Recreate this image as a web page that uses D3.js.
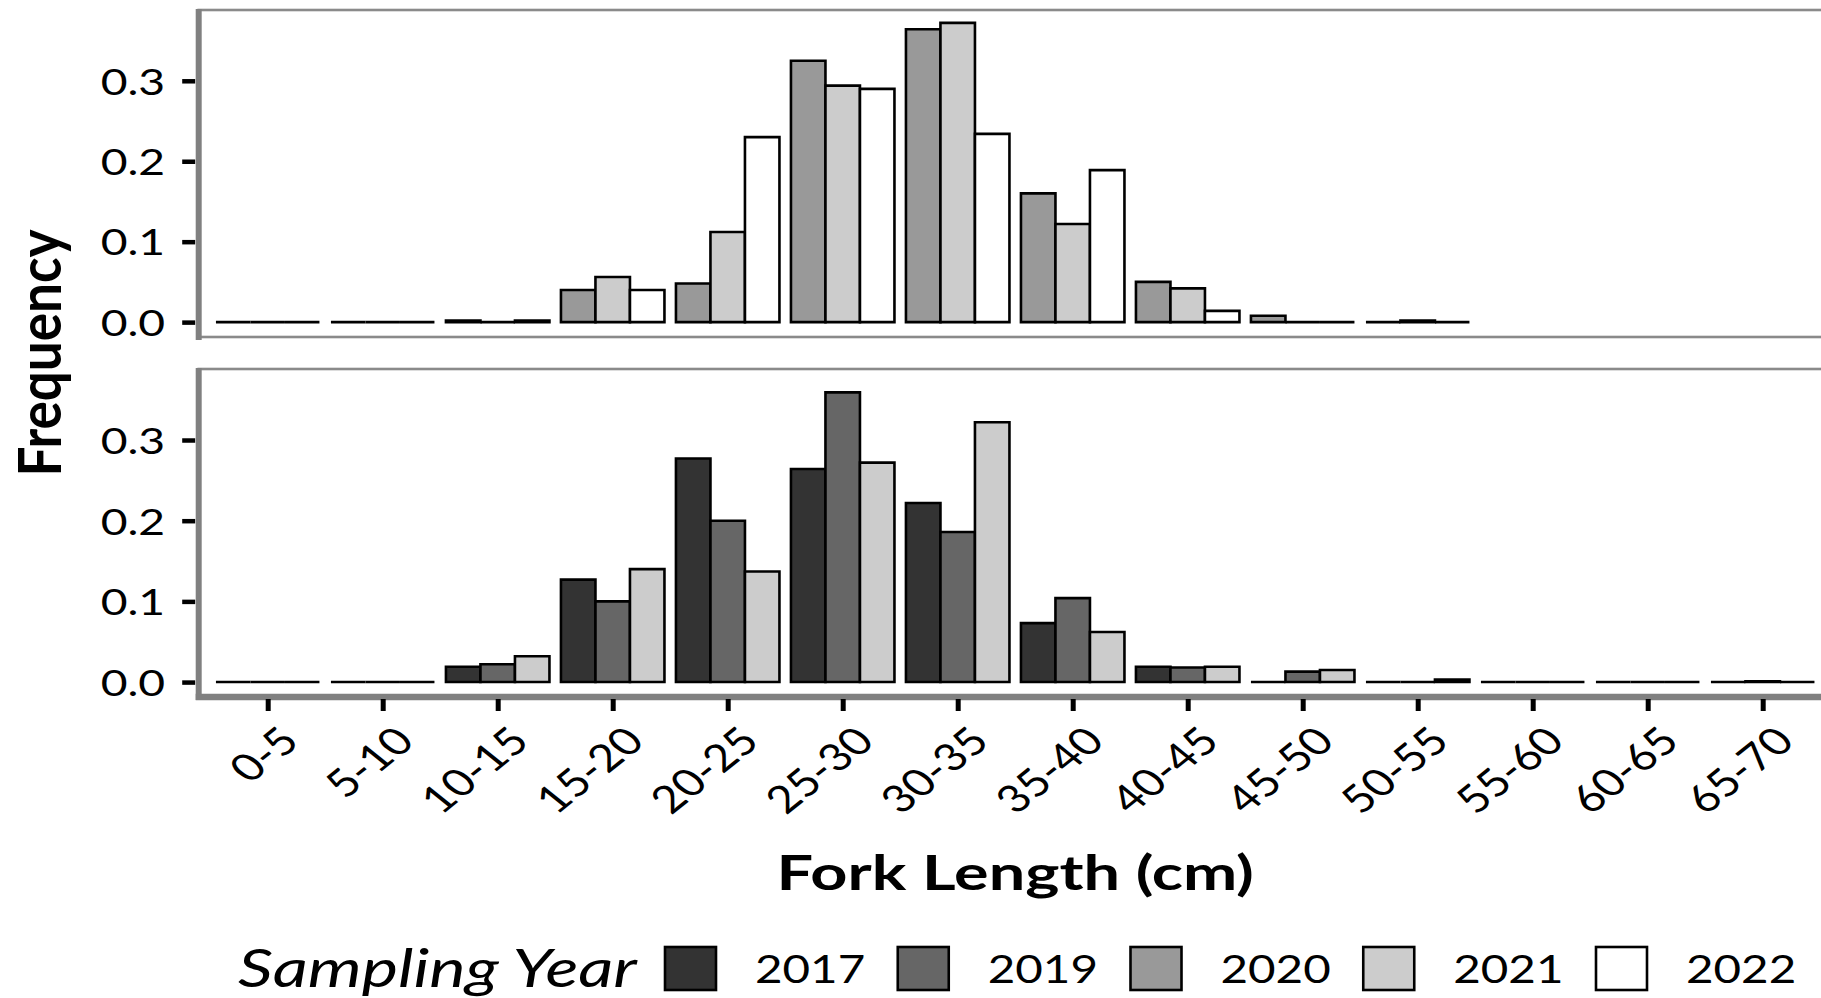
<!DOCTYPE html>
<html>
<head>
<meta charset="utf-8">
<script src="https://cdn.jsdelivr.net/npm/d3@7"></script>
<style>
  body { margin: 0; background: #fff; }
  svg text { font-family: Lato, "Open Sans", sans-serif; fill: #000; }
</style>
</head>
<body>
<div id="chart"></div>
<script>
// length classes on the x axis
const lengthBins = ["0-5", "5-10", "10-15", "15-20", "20-25", "25-30", "30-35",
  "35-40", "40-45", "45-50", "50-55", "55-60", "60-65", "65-70"];

const years = ["2017", "2019", "2020", "2021", "2022"];
const yearFills = ["#333333", "#666666", "#999999", "#cccccc", "#ffffff"];

// top panel (null = no data for that class)
const topYears = ["2020", "2021", "2022"];
const top2020 = [0, 0, 0.002, 0.040, 0.048, 0.325, 0.364, 0.160, 0.050, 0.008, 0, null, null, null];
const top2021 = [0, 0, 0, 0.056, 0.112, 0.294, 0.372, 0.122, 0.042, 0, 0.002, null, null, null];
const top2022 = [0, 0, 0.002, 0.040, 0.230, 0.290, 0.234, 0.189, 0.014, 0, 0, null, null, null];

// bottom panel
const bottomYears = ["2017", "2019", "2021"];
const bottom2017 = [0, 0, 0.019, 0.127, 0.277, 0.264, 0.222, 0.073, 0.019, 0, 0, 0, 0, 0];
const bottom2019 = [0, 0, 0.022, 0.100, 0.200, 0.359, 0.186, 0.104, 0.018, 0.013, 0, 0, 0, 0.001];
const bottom2021 = [0, 0, 0.032, 0.140, 0.137, 0.272, 0.322, 0.062, 0.019, 0.015, 0.003, 0, 0, 0];

const yTicks = [0, 0.1, 0.2, 0.3];

function drawChart() {
  const width = 1821;
  const height = 998;
  const SX = 1.25; // text in the reference is stretched sideways
  const plotLeft = 198.7;
  const plotRight = 1831.7; // runs past the right edge, as in the picture
  const gray = "#8a8a8a";

  const svg = d3.select("#chart").append("svg")
    .attr("width", width)
    .attr("height", height);

  const x = d3.scalePoint()
    .domain(lengthBins)
    .range([plotLeft, plotRight])
    .padding(0.6);
  const step = x.step();

  // three dodged bars filling 90% of a class
  const dodge = d3.scaleBand()
    .domain([0, 1, 2])
    .range([-0.45 * step, 0.45 * step]);

  const fill = d3.scaleOrdinal().domain(years).range(yearFills);

  const panels = [
    { years: topYears, series: [top2020, top2021, top2022], y0: 10, y1: 337 },
    { years: bottomYears, series: [bottom2017, bottom2019, bottom2021], y0: 369, y1: 697 }
  ];

  panels.forEach((p, i) => {
    const y = d3.scaleLinear()
      .domain([-0.0185, 0.388])
      .range([p.y1, p.y0]);

    const g = svg.append("g");

    // panel border
    g.append("rect")
      .attr("x", plotLeft)
      .attr("y", p.y0)
      .attr("width", plotRight - plotLeft)
      .attr("height", p.y1 - p.y0)
      .attr("fill", "none")
      .attr("stroke", gray)
      .attr("stroke-width", 2.6);

    const rows = [];
    p.series.forEach((vals, k) => {
      vals.forEach((v, j) => {
        if (v != null) rows.push({ bin: lengthBins[j], year: p.years[k], k: k, v: v });
      });
    });

    // bars as paths so that zero values still show as a line
    g.selectAll(".bar")
      .data(rows)
      .join("path")
      .attr("class", "bar")
      .attr("d", d => {
        const x0 = x(d.bin) + dodge(d.k);
        const x1 = x0 + dodge.bandwidth();
        return `M${x0},${y(0)}V${y(d.v)}H${x1}V${y(0)}Z`;
      })
      .attr("fill", d => fill(d.year))
      .attr("stroke", "#000")
      .attr("stroke-width", 2.6);

    // Y axis
    const yAxis = g.append("g")
      .attr("transform", `translate(${plotLeft - 3.5},0)`)
      .call(d3.axisLeft(y).tickValues(yTicks).tickFormat(d3.format(".1f")).tickSize(13).tickSizeOuter(0));
    yAxis.select(".domain").remove();
    yAxis.selectAll(".tick line").attr("stroke", "#000").attr("stroke-width", 4.5);
    yAxis.selectAll(".tick text")
      .attr("x", null)
      .attr("dy", "0.36em")
      .attr("transform", `translate(-30,0) scale(${SX},1)`)
      .style("font-size", "37px")
      .style("text-anchor", "end");

    // left axis line
    g.append("line")
      .attr("x1", plotLeft).attr("x2", plotLeft)
      .attr("y1", p.y0 - 1).attr("y2", p.y1 + 3)
      .attr("stroke", "#808080")
      .attr("stroke-width", 6);

    // X axis only under the bottom panel
    if (i === panels.length - 1) {
      g.append("line")
        .attr("x1", plotLeft - 3).attr("x2", plotRight)
        .attr("y1", p.y1).attr("y2", p.y1)
        .attr("stroke", "#808080")
        .attr("stroke-width", 6.5);

      const xAxis = g.append("g")
        .attr("transform", `translate(0,${p.y1 + 2})`)
        .call(d3.axisBottom(x).tickSize(12).tickSizeOuter(0));
      xAxis.select(".domain").remove();
      xAxis.selectAll(".tick line").attr("stroke", "#000").attr("stroke-width", 5);
      xAxis.selectAll(".tick text")
        .attr("y", null)
        .attr("dy", "0.72em")
        .attr("transform", `translate(9,25) scale(${SX},1) rotate(-45)`)
        .style("font-size", "38px")
        .style("text-anchor", "end");
    }
  });

  // Y label
  svg.append("text")
    .attr("transform", `translate(61,353) scale(1.13,1) rotate(-90)`)
    .style("text-anchor", "middle")
    .style("font-size", "53px")
    .style("font-weight", "700")
    .text("Frequency");

  // X label
  svg.append("text")
    .attr("transform", `translate(${(plotLeft + plotRight) / 2},890) scale(1.35,1)`)
    .style("text-anchor", "middle")
    .style("font-size", "48px")
    .style("font-weight", "700")
    .text("Fork Length (cm)");

  // Legend
  svg.append("text")
    .attr("transform", `translate(238,987) scale(1.32,1)`)
    .style("font-size", "52px")
    .style("font-style", "italic")
    .text("Sampling Year");

  const legend = svg.selectAll(".legend-item")
    .data(years)
    .join("g")
    .attr("class", "legend-item")
    .attr("transform", (d, i) => `translate(${665 + i * 232.75},947)`);

  legend.append("rect")
    .attr("width", 51)
    .attr("height", 43)
    .attr("fill", d => fill(d))
    .attr("stroke", "#000")
    .attr("stroke-width", 2.6);

  legend.append("text")
    .attr("transform", `translate(90,36) scale(${SX},1)`)
    .style("font-size", "38px")
    .text(d => d);
}

drawChart();
</script>
</body>
</html>
